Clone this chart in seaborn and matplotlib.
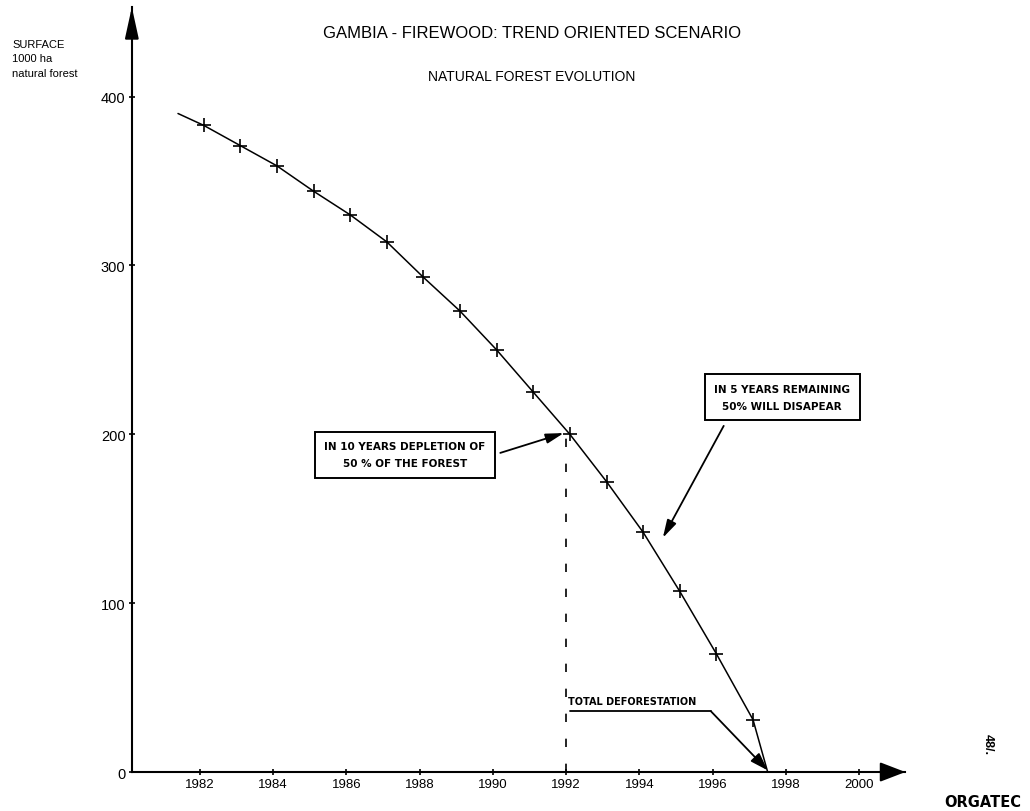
import matplotlib
matplotlib.use("Agg")
import matplotlib.pyplot as plt
import seaborn as sns

# values (1000 ha of natural forest)
curve_years = [1981.4, 1982.1, 1983.1, 1984.1, 1985.1, 1986.1, 1987.1, 1988.1,
               1989.1, 1990.1, 1991.1, 1992.1, 1993.1, 1994.1, 1995.1, 1996.1,
               1997.1, 1997.5]
curve_surface = [390, 383, 371, 359, 344, 330, 314, 293, 273, 250, 225, 200,
                 172, 142, 107, 70, 31, 0]
# the "+" marks sit on the yearly points only
mark_years = curve_years[1:-1]
mark_surface = curve_surface[1:-1]

x_ticks = [1982, 1984, 1986, 1988, 1990, 1992, 1994, 1996, 1998, 2000]
y_ticks = [0, 100, 200, 300, 400]

title = "GAMBIA - FIREWOOD: TREND ORIENTED SCENARIO"
subtitle = "NATURAL FOREST EVOLUTION"
y_label = "SURFACE\n1000 ha\nnatural forest"
note_half = "IN 10 YEARS DEPLETION OF\n50 % OF THE FOREST"
note_rest = "IN 5 YEARS REMAINING\n50% WILL DISAPEAR"
note_end = "TOTAL DEFORESTATION"

sns.set_theme(style="white")
plt.rcParams["font.family"] = ["Liberation Sans", "DejaVu Sans"]
plt.rcParams.update({"text.color": "black", "xtick.color": "black",
                     "ytick.color": "black", "axes.labelcolor": "black"})

fig = plt.figure(figsize=(10.3, 8.12), dpi=100)
ax = fig.add_axes([0.128, 0.048, 0.751, 0.942])

sns.lineplot(x=curve_years, y=curve_surface, ax=ax, color="black", lw=1.1,
             sort=False, estimator=None)
sns.scatterplot(x=mark_years, y=mark_surface, ax=ax, marker="+", s=110,
                color="black", linewidth=1.2, zorder=3)

ax.set_xlim(1980.14, 2001.26)
ax.set_ylim(0, 453)
ax.set_xticks(x_ticks)
ax.set_yticks(y_ticks)
ax.tick_params(axis="both", direction="inout", length=5, width=1.2,
               color="black", pad=2, bottom=True, left=True)
ax.tick_params(axis="x", labelsize=9.5)
ax.tick_params(axis="y", labelsize=10.5)
ax.set_xlabel("")
ax.set_ylabel("")

for side in ("top", "right"):
    ax.spines[side].set_visible(False)
for side in ("left", "bottom"):
    ax.spines[side].set_color("black")
    ax.spines[side].set_linewidth(1.5)

# arrow heads on the two axes
ax.annotate("", xy=(0, 1), xycoords="axes fraction", xytext=(0, 0.96),
            arrowprops=dict(arrowstyle="-|>,head_length=1.6,head_width=0.35",
                            color="black", lw=1.5, shrinkA=0, shrinkB=0),
            annotation_clip=False)
ax.annotate("", xy=(1, 0), xycoords="axes fraction", xytext=(0.97, 0),
            arrowprops=dict(arrowstyle="-|>,head_length=1.3,head_width=0.5",
                            color="black", lw=1.5, shrinkA=0, shrinkB=0),
            annotation_clip=False)

# 1992 drop line
ax.plot([1992, 1992], [0, 200], color="black", lw=1.2, dashes=(5, 10))

box = dict(boxstyle="square,pad=0.9", fc="white", ec="black", lw=1.4)
ax.text(1987.6, 188, note_half, fontsize=7.5, fontweight="bold",
        family="DejaVu Sans", ha="center", va="center", linespacing=1.9,
        bbox=box)
ax.annotate("", xy=(1991.97, 201), xytext=(1990.2, 189),
            arrowprops=dict(arrowstyle="-|>,head_length=0.9,head_width=0.25",
                            color="black", lw=1.3, shrinkA=0, shrinkB=1))

ax.text(1997.9, 222, note_rest, fontsize=7.5, fontweight="bold",
        family="DejaVu Sans", ha="center", va="center", linespacing=1.9,
        bbox=box)
ax.annotate("", xy=(1994.62, 138), xytext=(1996.3, 205),
            arrowprops=dict(arrowstyle="-|>,head_length=0.9,head_width=0.25",
                            color="black", lw=1.3, shrinkA=0, shrinkB=1))

ax.text(1992.05, 39, note_end, fontsize=7, fontweight="bold",
        family="DejaVu Sans", ha="left", va="bottom")
ax.plot([1992.1, 1995.95], [36, 36], color="black", lw=1.3)
ax.annotate("", xy=(1997.5, 1), xytext=(1995.95, 36),
            arrowprops=dict(arrowstyle="-|>,head_length=0.9,head_width=0.3",
                            color="black", lw=1.3, shrinkA=0, shrinkB=0))

fig.text(0.517, 0.959, title, fontsize=12, ha="center", va="center")
fig.text(0.516, 0.905, subtitle, fontsize=10, ha="center", va="center")
fig.text(0.012, 0.951, y_label, fontsize=8, ha="left", va="top",
         linespacing=1.55)
fig.text(0.954, 0.012, "ORGATEC", fontsize=10.5, fontweight="bold",
         family="DejaVu Sans", ha="center", va="center")
fig.text(0.959, 0.083, "48/.", fontsize=9, fontweight="bold", rotation=-90,
         ha="center", va="center")

fig.savefig("out.png", dpi=100)
